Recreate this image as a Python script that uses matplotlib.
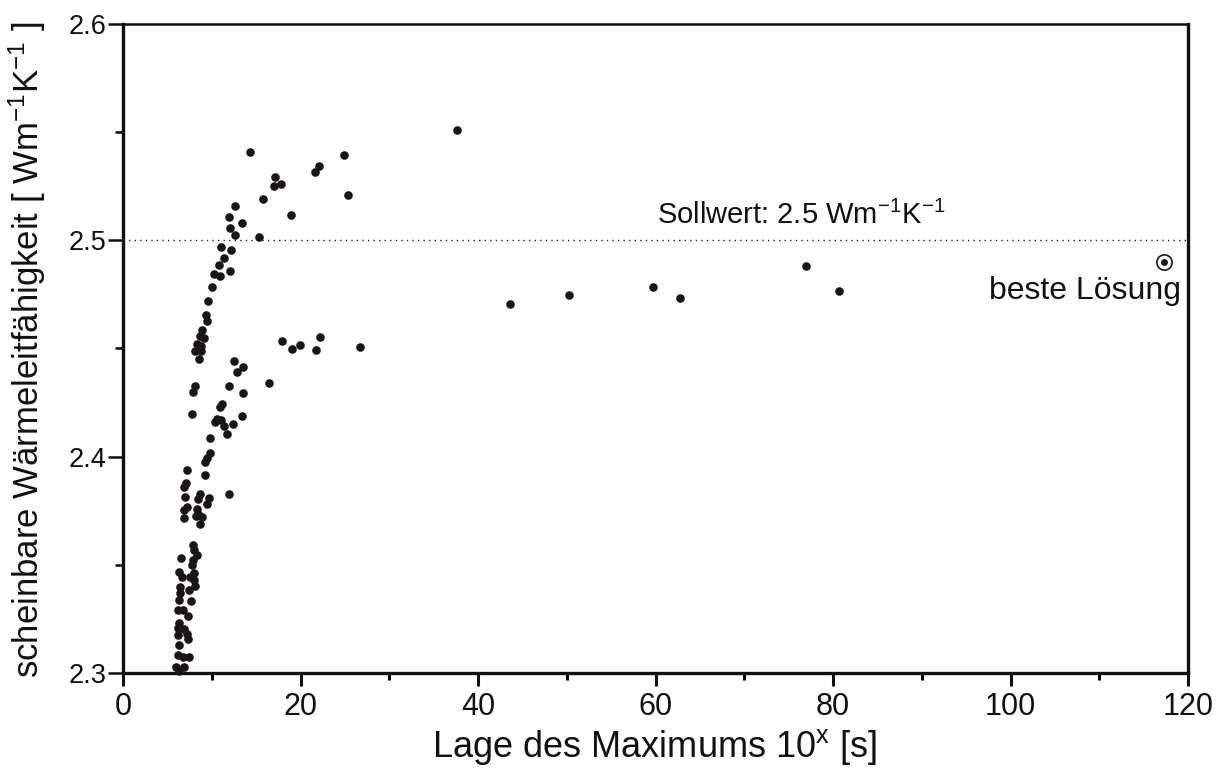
import matplotlib
matplotlib.use("Agg")
import matplotlib.pyplot as plt
from matplotlib.ticker import MultipleLocator

plt.rcParams['font.family'] = ['Liberation Sans', 'DejaVu Sans']
plt.rcParams['mathtext.fontset'] = 'custom'
plt.rcParams['mathtext.rm'] = 'Liberation Sans'
plt.rcParams['mathtext.it'] = 'Liberation Sans'

x_vals = [14.3, 24.9, 22.1, 21.6, 17.1, 17.8, 17.0, 25.3, 15.8, 12.6, 18.9, 11.9, 13.4, 12.1,
          12.6, 15.3, 11.08, 12.2, 11.4, 10.8, 12.1, 10.3, 10.9, 10.0, 9.58, 9.31, 9.5, 8.87,
          8.64, 9.13, 8.3, 8.75, 8.11, 8.8, 8.53, 17.9, 19.0, 19.9, 22.2, 21.8, 26.7, 12.5,
          13.5, 12.85, 16.45, 11.94, 8.1, 7.9, 13.5, 11.1, 10.93, 7.74, 13.4, 10.55, 10.37,
          11.0, 11.38, 12.36, 11.68, 9.84, 9.8, 9.5, 9.24, 7.21, 9.27, 7.1, 6.9, 6.98, 11.94,
          8.68, 8.4, 9.7, 9.46, 7.17, 6.9, 8.3, 8.49, 8.2, 8.94, 6.87, 8.7, 7.89, 8.04, 8.3,
          6.54, 7.9, 7.74, 6.35, 8.04, 6.68, 7.55, 8.0, 6.42, 8.11, 7.44, 6.42, 6.35, 7.66,
          6.23, 6.8, 7.3, 6.35, 6.16, 6.9, 7.24, 6.23, 7.36, 6.35, 6.23, 6.8, 7.47, 5.97, 6.9,
          6.35, 43.6, 50.3, 59.75, 62.76, 77.0, 80.7, 37.6]
y_vals = [2.541, 2.5394, 2.5343, 2.5317, 2.5295, 2.526, 2.525, 2.521, 2.519, 2.516, 2.5115,
          2.511, 2.508, 2.5057, 2.5025, 2.5017, 2.4967, 2.4955, 2.4918, 2.4886, 2.4858, 2.4843,
          2.4835, 2.4785, 2.4721, 2.4654, 2.4625, 2.4586, 2.4558, 2.4548, 2.452, 2.4512, 2.4488,
          2.4488, 2.4452, 2.4534, 2.45, 2.4518, 2.4552, 2.4491, 2.4506, 2.4441, 2.4413, 2.439,
          2.434, 2.4325, 2.4325, 2.4297, 2.4295, 2.4245, 2.4229, 2.4198, 2.419, 2.4175, 2.416,
          2.417, 2.414, 2.4152, 2.4106, 2.4085, 2.4017, 2.3996, 2.3974, 2.394, 2.3915, 2.3878,
          2.386, 2.3814, 2.3827, 2.3826, 2.3806, 2.3808, 2.3783, 2.3768, 2.3755, 2.376, 2.3737,
          2.3725, 2.3721, 2.3717, 2.3688, 2.3591, 2.3568, 2.3545, 2.3532, 2.3522, 2.3498,
          2.3468, 2.3463, 2.3445, 2.3445, 2.3429, 2.3398, 2.3403, 2.3383, 2.3368, 2.3337,
          2.3332, 2.3291, 2.3291, 2.3263, 2.3232, 2.3206, 2.3202, 2.318, 2.3175, 2.3155,
          2.3129, 2.3083, 2.3072, 2.3072, 2.3029, 2.3026, 2.3011, 2.4708, 2.4745, 2.4783,
          2.4734, 2.4883, 2.4768, 2.5511]
best_x = [117.3]
best_y = [2.4902]
target_value = 2.5

x_ticks = [0, 20, 40, 60, 80, 100, 120]
y_ticks = [2.3, 2.4, 2.5, 2.6]

W, H = 1223, 769
fig = plt.figure(figsize=(W / 100, H / 100), dpi=100)
ax = fig.add_axes([123 / W, 1 - 673 / H, (1188 - 123) / W, (673 - 24) / H])

ax.axhline(target_value, color='#222222', lw=1.0, ls=(0, (1, 3)), zorder=1)
ax.plot(x_vals, y_vals, 'o', color='#1a1616', ms=6.2, mec='none', zorder=3, clip_on=False)
ax.plot(best_x, best_y, 'o', mfc='white', mec='#1a1616', mew=1.2, ms=11, zorder=3)
ax.plot(best_x, best_y, 'o', color='#1a1616', ms=5, mec='none', zorder=4)

ax.text(60.2, 2.5075, 'Sollwert: 2.5 Wm$^{\\mathregular{-1}}$K$^{\\mathregular{-1}}$',
        fontsize=21, ha='left', va='baseline', color='#111111')
ax.text(119.2, 2.4765, 'beste Lösung', fontsize=23, ha='right', va='center', color='#111111')

ax.set_xlim(0, 120)
ax.set_ylim(2.3, 2.6)
ax.set_xticks(x_ticks)
ax.set_yticks(y_ticks)
ax.set_xticklabels([str(v) for v in x_ticks])
ax.set_yticklabels([f'{v:.1f}' for v in y_ticks])
ax.xaxis.set_minor_locator(MultipleLocator(10))
ax.yaxis.set_minor_locator(MultipleLocator(0.05))

for side in ['left', 'bottom', 'right']:
    ax.spines[side].set_linewidth(2.4)
ax.spines['top'].set_linewidth(1.8)
for s in ax.spines.values():
    s.set_color('#111111')

ax.tick_params(axis='x', which='major', direction='out', length=9.5, width=2.2, labelsize=22,
               pad=4, colors='#111111')
ax.tick_params(axis='x', which='minor', direction='out', length=5, width=2.2)
ax.tick_params(axis='y', which='major', direction='out', length=11, width=1.8, labelsize=19.5,
               pad=1, colors='#111111')
ax.tick_params(axis='y', which='minor', direction='out', length=6, width=1.8)

fig.text(655 / W, 1 - 757 / H, 'Lage des Maximums 10$^{\\mathregular{x}}$ [s]', fontsize=26,
         ha='center', va='baseline', color='#111111')
fig.text(27 / W, 1 - 350 / H,
         'scheinbare Wärmeleitfähigkeit [ Wm$^{\\mathregular{-1}}$K$^{\\mathregular{-1}}$ ]',
         fontsize=25, rotation=90, ha='center', va='center', color='#111111')

fig.savefig('out.png', dpi=100)
